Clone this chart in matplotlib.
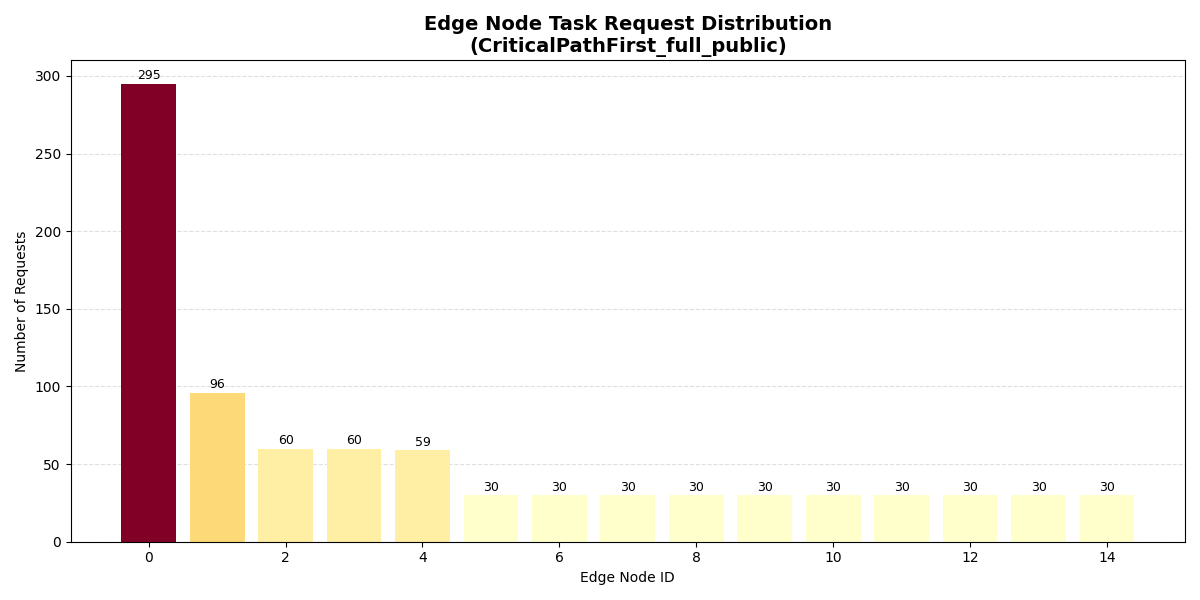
import matplotlib
matplotlib.use("Agg")
import matplotlib.pyplot as plt
import numpy as np

node_ids = list(range(15))
requests = [295, 96, 60, 60, 59, 30, 30, 30, 30, 30, 30, 30, 30, 30, 30]

fig, ax = plt.subplots(figsize=(12, 6), dpi=100)
vals = np.array(requests, dtype=float)
norm = plt.Normalize(vals.min(), vals.max())
colors = plt.cm.YlOrRd(norm(vals))
bars = ax.bar(node_ids, requests, color=colors)
for b, v in zip(bars, requests):
    ax.text(b.get_x() + b.get_width() / 2, b.get_height() + 1, str(v),
            ha="center", va="bottom", fontsize=9)
ax.set_xlabel("Edge Node ID")
ax.set_ylabel("Number of Requests")
ax.set_title("Edge Node Task Request Distribution\n(CriticalPathFirst_full_public)",
             fontsize=14, fontweight="bold")
ax.grid(axis="y", linestyle="--", alpha=0.4)
ax.set_axisbelow(True)
ax.set_ylim(0, 310)
fig.tight_layout()
fig.savefig("out.png")
